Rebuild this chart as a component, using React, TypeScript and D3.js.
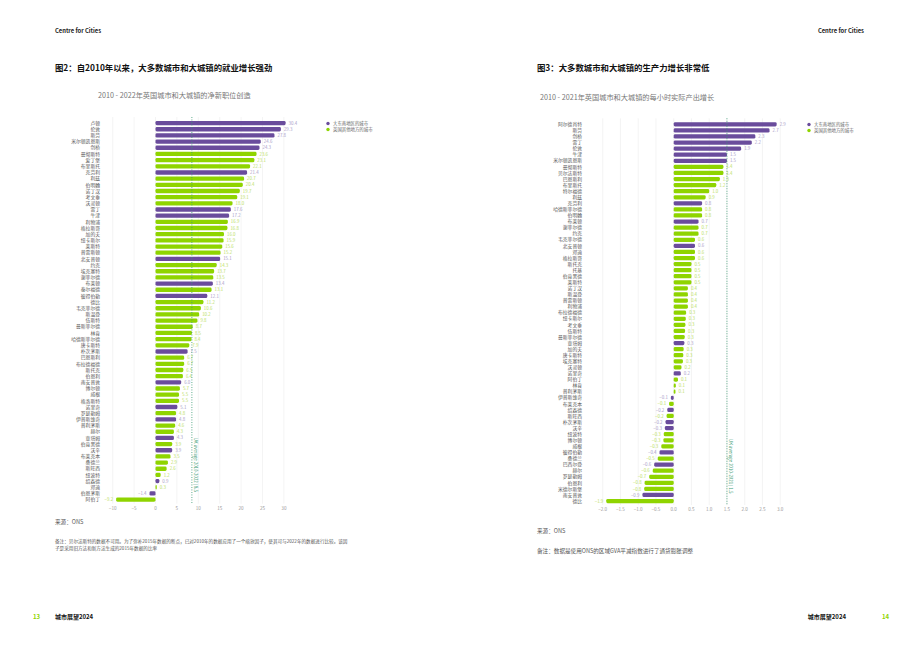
import * as d3 from 'd3';

// 图2 数据：2010-2022 净新职位创造 (%)
const jobCities = [
  '卢顿', '伦敦', '斯劳', '米尔顿凯恩斯', '剑桥', '曼彻斯特', '爱丁堡', '布里斯托', '克劳利', '利兹',
  '伯明翰', '诺丁汉', '考文垂', '沃灵顿', '雷丁', '牛津', '利物浦', '格拉斯哥', '加的夫', '纽卡斯尔',
  '莱斯特', '普雷斯顿', '北安普顿', '约克', '埃克塞特', '谢菲尔德', '布莱顿', '泰尔福德', '彼得伯勒', '德比',
  '韦克菲尔德', '斯温登', '伍斯特', '曼斯菲尔德', '林肯', '哈德斯菲尔德', '唐卡斯特', '朴次茅斯', '巴恩斯利', '布拉德福德',
  '斯托克', '伯恩利', '南安普敦', '博尔顿', '威根', '格洛斯特', '诺里奇', '罗瑟勒姆', '伊普斯维奇', '普利茅斯',
  '赫尔', '查塔姆', '伯肯黑德', '沃辛', '布莱克本', '桑德兰', '斯旺西', '纽波特', '绍森德', '邓迪',
  '伯恩茅斯', '阿伯丁',
];
const jobValues = [
  30.4, 29.3, 27.8, 24.6, 24.3, 23.6, 23.1, 22.1, 21.4, 20.7,
  20.4, 19.7, 19.1, 18.0, 17.6, 17.2, 16.9, 16.8, 16.0, 15.9,
  15.6, 15.2, 15.1, 14.3, 13.7, 13.5, 13.4, 13.1, 12.1, 11.2,
  10.6, 10.2, 9.8, 8.7, 8.5, 8.4, 7.9, 7.5, 6.7, 6.7,
  6.5, 6.4, 6.0, 5.7, 5.5, 5.5, 5.1, 4.8, 4.8, 4.6,
  4.3, 4.3, 3.9, 3.9, 3.5, 2.9, 2.6, 1.2, 0.9, 0.3,
  -1.4, -9.2,
];
const jobSouthEast = [
  1, 1, 1, 1, 1, 0, 0, 0, 1, 0,
  0, 0, 0, 0, 1, 1, 0, 0, 0, 0,
  0, 0, 1, 0, 0, 0, 1, 0, 1, 0,
  0, 0, 0, 0, 0, 0, 0, 1, 0, 0,
  0, 0, 1, 0, 0, 0, 1, 0, 1, 0,
  0, 1, 0, 1, 0, 0, 0, 0, 1, 0,
  1, 0,
];
const jobTicks = [-10, -5, 0, 5, 10, 15, 20, 25, 30];
const jobAverage = 8.5;

// 图3 数据：2010-2021 每小时实际产出增长 (%)
const gvaCities = [
  '阿尔德肖特', '斯劳', '剑桥', '雷丁', '伦敦', '牛津', '米尔顿凯恩斯', '曼彻斯特', '贝尔法斯特', '巴恩斯利',
  '布里斯托', '特尔福德', '利兹', '克劳利', '哈德斯菲尔德', '伯明翰', '布莱顿', '谢菲尔德', '约克', '韦克菲尔德',
  '北安普顿', '邓迪', '格拉斯哥', '斯托克', '托基', '伯肯黑德', '莱斯特', '诺丁汉', '斯温登', '普雷斯顿',
  '利物浦', '布拉德福德', '纽卡斯尔', '考文垂', '伍斯特', '曼斯菲尔德', '查塔姆', '加的夫', '唐卡斯特', '埃克塞特',
  '沃灵顿', '诺里奇', '阿伯丁', '林肯', '普利茅斯', '伊普斯维奇', '布莱克本', '绍森德', '斯旺西', '朴次茅斯',
  '沃辛', '纽波特', '博尔顿', '威根', '彼得伯勒', '桑德兰', '巴西尔登', '赫尔', '罗瑟勒姆', '伯恩利',
  '米德尔斯堡', '南安普敦', '德比',
];
const gvaValues = [
  2.9, 2.7, 2.3, 2.2, 1.9, 1.5, 1.5, 1.4, 1.4, 1.3,
  1.2, 1.0, 0.9, 0.8, 0.8, 0.8, 0.7, 0.7, 0.7, 0.6,
  0.6, 0.6, 0.6, 0.5, 0.5, 0.5, 0.5, 0.4, 0.4, 0.4,
  0.4, 0.35, 0.34, 0.33, 0.32, 0.31, 0.3, 0.28, 0.27, 0.26,
  0.22, 0.2, 0.12, 0.06, 0.05, -0.08, -0.13, -0.18, -0.2, -0.23,
  -0.25, -0.28, -0.29, -0.35, -0.4, -0.45, -0.55, -0.59, -0.69, -0.82,
  -0.83, -0.88, -1.9,
];
const gvaSouthEast = [
  1, 1, 1, 1, 1, 1, 1, 0, 0, 0,
  0, 0, 0, 1, 0, 0, 1, 0, 0, 0,
  1, 0, 0, 0, 0, 0, 0, 0, 0, 0,
  0, 0, 0, 0, 0, 0, 1, 0, 0, 0,
  0, 1, 0, 0, 0, 1, 0, 1, 0, 1,
  1, 0, 0, 0, 1, 0, 1, 0, 0, 0,
  0, 1, 0,
];
const gvaTicks = [-2, -1.5, -1, -0.5, 0, 0.5, 1, 1.5, 2, 2.5, 3];
const gvaAverage = 1.5;

const legendLabels = ['大东南地区的城市', '英国其他地方的城市'];

const PURPLE = '#6a4c9c';
const GREEN = '#8fd400';
const PURPLE_TXT = '#a89cc8';
const GREEN_TXT = '#b9de5e';
const AVG = '#3a9a72';
const FONT = '"Noto Sans CJK SC", "Noto Sans", sans-serif';

interface PanelProps {
  cities: string[];
  values: number[];
  group: number[];
  ticks: number[];
  average: number;
  averageLabel: string;
  domain: [number, number];
  xRange: [number, number];
  yRange: [number, number];
  labelRight: number;
  legendX: number;
  legendY: number;
  tickFmt: (v: number) => string;
}

function BarPanel(p: PanelProps) {
  const x = d3.scaleLinear().domain(p.domain).range(p.xRange);
  const y = d3.scaleBand<number>().domain(d3.range(p.values.length)).range(p.yRange).paddingInner(0.3).paddingOuter(0.15);
  const fmt = d3.format('.1f');
  const bw = y.bandwidth();
  const top = p.yRange[0] - 3;
  const bottom = p.yRange[1] + 1;
  return (
    <g>
      {p.ticks.map((t) => (
        <g key={t}>
          <line x1={x(t)} x2={x(t)} y1={top} y2={bottom} stroke="#ececec" strokeWidth={0.6} />
          <text x={x(t)} y={bottom + 6} fontSize={4.6} fill="#9a9a9a" textAnchor="middle">{p.tickFmt(t)}</text>
        </g>
      ))}
      {p.values.map((v, i) => {
        const cy = (y(i) as number) + bw / 2;
        const se = p.group[i] === 1;
        const x0 = x(Math.min(0, v));
        const w = Math.abs(x(v) - x(0));
        return (
          <g key={i}>
            <text x={p.labelRight} y={cy + 1.7} fontSize={4.8} fill="#555" textAnchor="end">{p.cities[i]}</text>
            <rect x={x0} y={y(i)} width={Math.max(w, 0.8)} height={bw} rx={1.4} fill={se ? PURPLE : GREEN} />
            <text
              x={v >= 0 ? x(v) + 3 : x(v) - 3}
              y={cy + 1.6}
              fontSize={4.4}
              fill={se ? PURPLE_TXT : GREEN_TXT}
              textAnchor={v >= 0 ? 'start' : 'end'}
            >
              {fmt(v)}
            </text>
          </g>
        );
      })}
      <line x1={x(p.average)} x2={x(p.average)} y1={top} y2={bottom} stroke={AVG} strokeWidth={0.9} strokeDasharray="0.9 1.6" />
      <text
        transform={`translate(${x(p.average) + 2.5},${bottom - 66}) rotate(90)`}
        fontSize={4.4}
        fill={AVG}
      >
        {p.averageLabel}
      </text>
      {legendLabels.map((l, i) => (
        <g key={l}>
          <circle cx={p.legendX} cy={p.legendY + i * 6} r={1.7} fill={i === 0 ? PURPLE : GREEN} />
          <text x={p.legendX + 5} y={p.legendY + i * 6 + 1.6} fontSize={4.4} fill="#666">{l}</text>
        </g>
      ))}
    </g>
  );
}

export default function App() {
  return (
    <svg
      width={920}
      height={651}
      style={{ position: 'absolute', left: 0, top: 0, background: '#fff' }}
      fontFamily={FONT}
    >
      <rect width={920} height={651} fill="#fff" />
      <text x={55} y={33} fontSize={5.8} fontWeight="bold" fill="#222">Centre for Cities</text>
      <text x={864} y={33} fontSize={5.8} fontWeight="bold" fill="#222" textAnchor="end">Centre for Cities</text>

      <text x={55} y={71} fontSize={8.4} fontWeight="bold" fill="#111">图2：自2010年以来，大多数城市和大城镇的就业增长强劲</text>
      <text x={98} y={98} fontSize={7.2} fill="#777">2010 - 2022年英国城市和大城镇的净新职位创造</text>

      <text x={537} y={71} fontSize={8.4} fontWeight="bold" fill="#111">图3：大多数城市和大城镇的生产力增长非常低</text>
      <text x={540} y={100} fontSize={7.2} fill="#777">2010 - 2021年英国城市和大城镇的每小时实际产出增长</text>

      <BarPanel
        cities={jobCities}
        values={jobValues}
        group={jobSouthEast}
        ticks={jobTicks}
        average={jobAverage}
        averageLabel="UK average 2010-2022 | 8.5"
        domain={[-10, 30]}
        xRange={[112.7, 283.9]}
        yRange={[120, 502.7]}
        labelRight={100}
        legendX={328}
        legendY={123.5}
        tickFmt={d3.format('d')}
      />
      <BarPanel
        cities={gvaCities}
        values={gvaValues}
        group={gvaSouthEast}
        ticks={gvaTicks}
        average={gvaAverage}
        averageLabel="UK average 2010-2021 | 1.5"
        domain={[-2, 3]}
        xRange={[602.7, 780.2]}
        yRange={[121.3, 504.1]}
        labelRight={582}
        legendX={809}
        legendY={124.5}
        tickFmt={d3.format('.1f')}
      />

      <text x={55} y={524} fontSize={5.6} fill="#555">来源：ONS</text>
      <text x={55} y={543} fontSize={4.6} fill="#555">备注：贝尔法斯特的数据不可用。为了弥补2015年数据的断点，已对2010年的数据应用了一个缩放因子，使其可与2022年的数据进行比较。该因</text>
      <text x={55} y={550} fontSize={4.6} fill="#555">子是采用旧方法和新方法生成的2015年数据的比率</text>

      <text x={537} y={533} fontSize={5.6} fill="#555">来源：ONS</text>
      <text x={537} y={553} fontSize={5.6} fill="#555">备注：数据是使用ONS的区域GVA平减指数进行了通货膨胀调整</text>

      <text x={33} y={619} fontSize={6} fontWeight="bold" fill="#8fd400">13</text>
      <text x={55} y={619} fontSize={6} fontWeight="bold" fill="#111">城市展望2024</text>
      <text x={846} y={619} fontSize={6} fontWeight="bold" fill="#111" textAnchor="end">城市展望2024</text>
      <text x={882} y={619} fontSize={6} fontWeight="bold" fill="#8fd400">14</text>
    </svg>
  );
}
